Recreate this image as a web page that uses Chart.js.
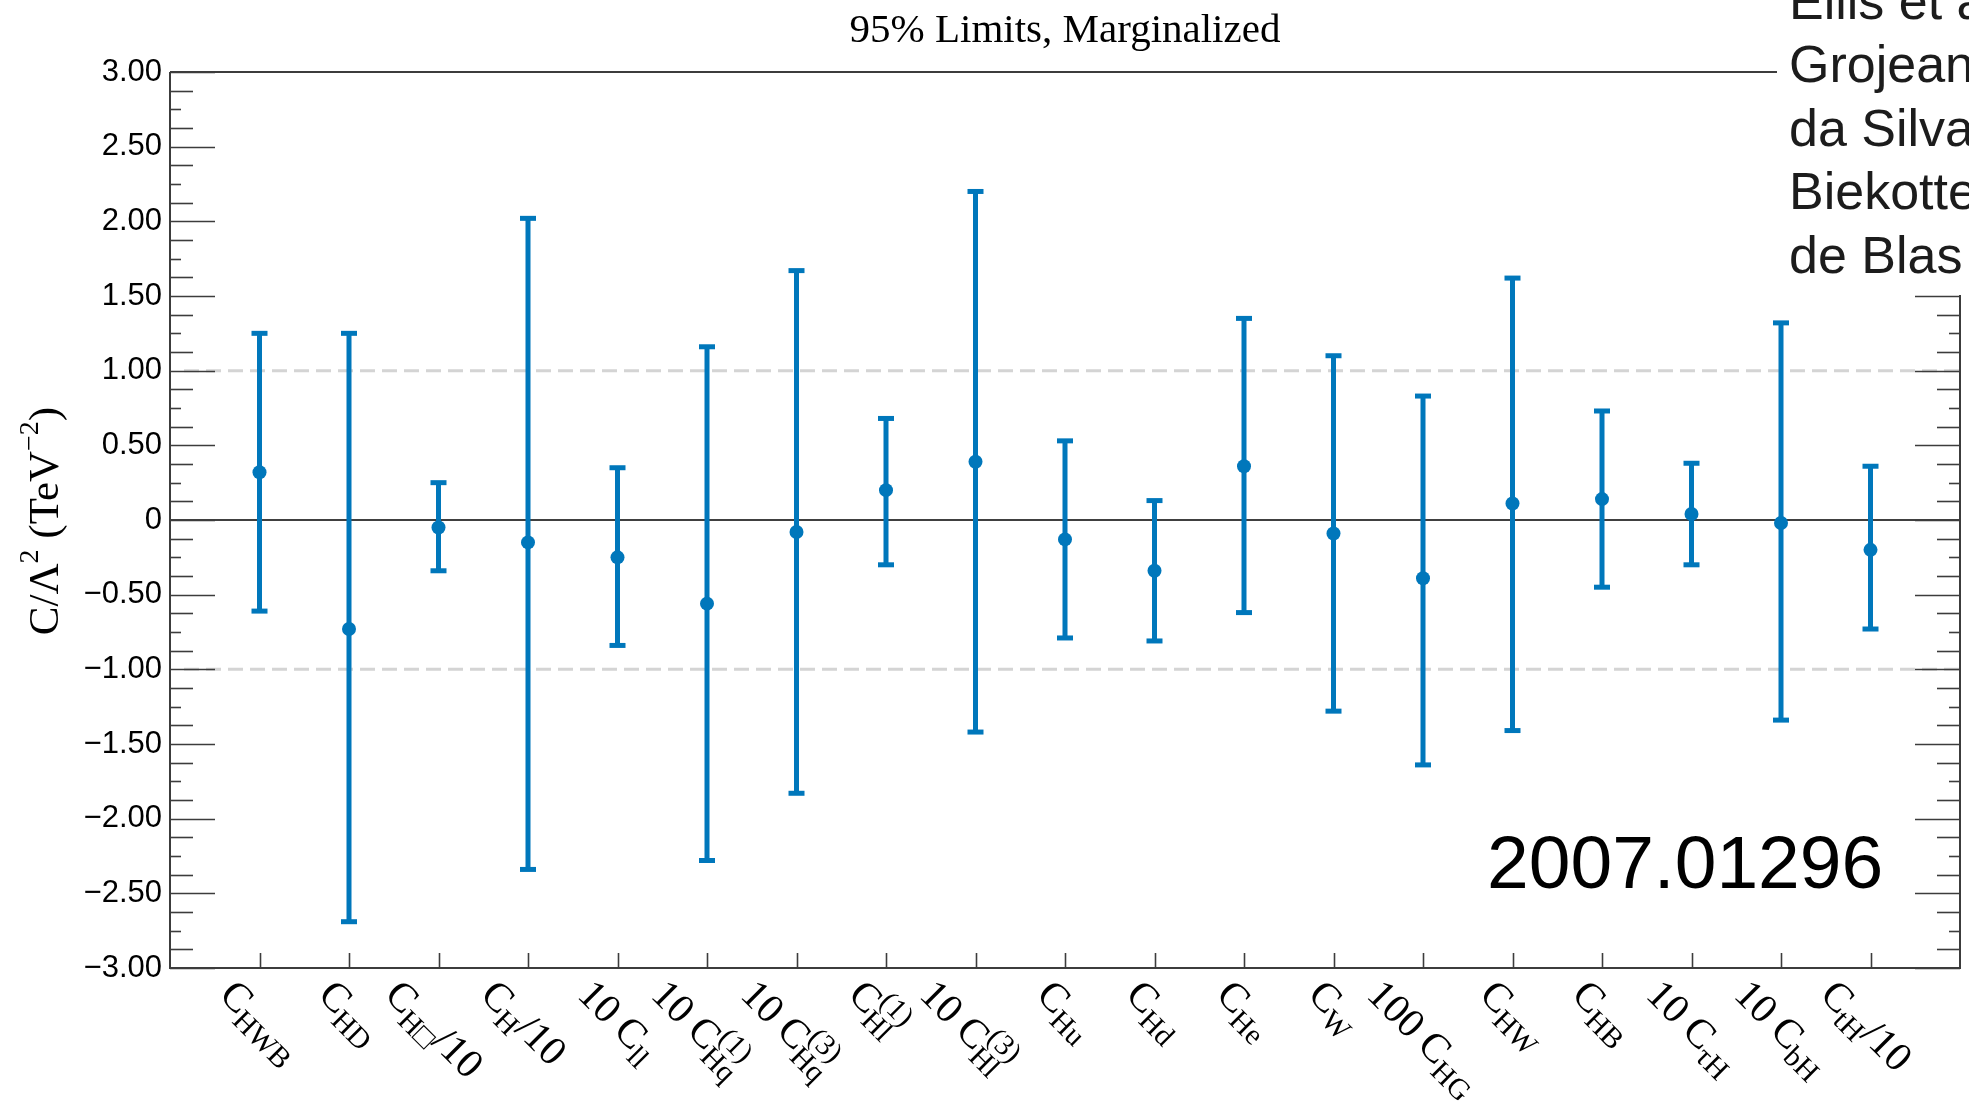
<!DOCTYPE html>
<html>
<head>
<meta charset="utf-8">
<script src="https://cdn.jsdelivr.net/npm/chart.js@4.4.1/dist/chart.umd.min.js"></script>
<style>
html,body{margin:0;padding:0;background:#fff;overflow:hidden;}
#wrap{width:1969px;height:1107px;position:relative;}
canvas{display:block;}
</style>
</head>
<body>
<div id="wrap"><canvas id="c" width="1969" height="1107"></canvas></div>
<script>
// ---------------- data ----------------
const categories = [
  'C_{HWB}', 'C_{HD}', 'C_{H\u25A1}/10', 'C_{H}/10', '10 C_{ll}',
  '10 C_{Hq}^{(1)}', '10 C_{Hq}^{(3)}', 'C_{Hl}^{(1)}', '10 C_{Hl}^{(3)}',
  'C_{Hu}', 'C_{Hd}', 'C_{He}', 'C_{W}', '100 C_{HG}', 'C_{HW}', 'C_{HB}',
  '10 C_{\u03C4H}', '10 C_{bH}', 'C_{tH}/10'
];
const centralValues = [0.32, -0.73, -0.05, -0.15, -0.25, -0.56, -0.08, 0.20, 0.39, -0.13, -0.34, 0.36, -0.09, -0.39, 0.11, 0.14, 0.04, -0.02, -0.20];
const lowerLimits   = [-0.61, -2.69, -0.34, -2.34, -0.84, -2.28, -1.83, -0.30, -1.42, -0.79, -0.81, -0.62, -1.28, -1.64, -1.41, -0.45, -0.30, -1.34, -0.73];
const upperLimits   = [1.25, 1.25, 0.25, 2.02, 0.35, 1.16, 1.67, 0.68, 2.20, 0.53, 0.13, 1.35, 1.10, 0.83, 1.62, 0.73, 0.38, 1.32, 0.36];
const yMin = -3, yMax = 3, yMajorStep = 0.5, yMinorStep = 0.125;
const referenceLines = [1, -1];
const titleText = '95% Limits, Marginalized';
const yTitleParts = [['C/\u039B', 'n'], ['2', 'sup'], [' (TeV', 'n'], ['\u22122', 'sup'], [')', 'n']];
const legendEntries = ['Ellis et al.', 'Grojean et al.', 'da Silva Almeida et al.', 'Biekotter et al.', 'de Blas et al.'];
const stampText = '2007.01296';

// ---------------- style ----------------
const BLUE = '#0077BB';
const FRAME = '#3c3c3c';
const SERIF = "'Liberation Serif', 'Times New Roman', serif";
const SANS = "'Liberation Sans', Arial, Helvetica, sans-serif";

function parseLatex(str) {
  const groups = [];
  let buf = '';
  let i = 0;
  while (i < str.length) {
    const ch = str[i];
    if ((ch === '_' || ch === '^') && str[i + 1] === '{') {
      if (buf) { groups.push({ t: 'n', s: buf }); buf = ''; }
      const end = str.indexOf('}', i + 2);
      groups.push({ t: ch === '_' ? 'sub' : 'sup', s: str.slice(i + 2, end) });
      i = end + 1;
    } else { buf += ch; i++; }
  }
  if (buf) groups.push({ t: 'n', s: buf });
  return groups;
}

function layoutLatex(ctx, str, F) {
  const fs = F * 0.72;
  const groups = parseLatex(str);
  const items = [];
  let cx = 0;
  const put = (s, x, y, f) => {
    ctx.font = f + 'px ' + SERIF;
    const m = ctx.measureText(s);
    items.push({ s, x, y, f, w: m.width, a: m.actualBoundingBoxAscent, d: m.actualBoundingBoxDescent });
    return m.width;
  };
  for (let g = 0; g < groups.length; g++) {
    const gr = groups[g];
    if (gr.t === 'n') {
      cx += put(gr.s, cx, 0, F);
    } else if (gr.t === 'sub') {
      let end = cx + put(gr.s, cx, 0.22 * F, fs);
      if (groups[g + 1] && groups[g + 1].t === 'sup') {
        end = Math.max(end, cx + put(groups[g + 1].s, cx, -0.42 * F, fs));
        g++;
      }
      cx = end;
    } else {
      cx += put(gr.s, cx, -0.42 * F, fs);
    }
  }
  return items;
}

function drawRotatedLatex(ctx, str, F, anchorX, topY, theta) {
  const items = layoutLatex(ctx, str, F);
  const c = Math.cos(theta), s = Math.sin(theta);
  let minX = Infinity, maxX = -Infinity, minY = Infinity;
  items.forEach(it => {
    const pts = [[it.x, it.y - it.a], [it.x + it.w, it.y - it.a], [it.x, it.y + it.d], [it.x + it.w, it.y + it.d]];
    pts.forEach(([px, py]) => {
      const rx = px * c - py * s, ry = px * s + py * c;
      minX = Math.min(minX, rx); maxX = Math.max(maxX, rx); minY = Math.min(minY, ry);
    });
  });
  ctx.save();
  ctx.translate(anchorX - (minX + maxX) / 2, topY - minY);
  ctx.rotate(theta);
  ctx.fillStyle = '#000';
  ctx.textAlign = 'left';
  ctx.textBaseline = 'alphabetic';
  items.forEach(it => { ctx.font = it.f + 'px ' + SERIF; ctx.fillText(it.s, it.x, it.y); });
  ctx.restore();
}

const rootStyle = {
  id: 'rootStyle',
  beforeDraw(chart) {
    const ctx = chart.ctx;
    ctx.save();
    ctx.fillStyle = '#fff';
    ctx.fillRect(0, 0, chart.width, chart.height);
    ctx.restore();
  },
  beforeDatasetsDraw(chart) {
    const { ctx, chartArea: a, scales: { y } } = chart;
    ctx.save();
    // reference dashed lines
    ctx.strokeStyle = '#d4d4d4';
    ctx.lineWidth = 3;
    ctx.setLineDash([15, 7]);
    referenceLines.forEach(v => {
      const py = y.getPixelForValue(v);
      ctx.beginPath(); ctx.moveTo(a.left + 14, py); ctx.lineTo(a.right, py); ctx.stroke();
    });
    ctx.setLineDash([]);
    // zero line
    ctx.strokeStyle = '#000';
    ctx.lineWidth = 1.5;
    const pz = y.getPixelForValue(0);
    ctx.beginPath(); ctx.moveTo(a.left, pz); ctx.lineTo(a.right, pz); ctx.stroke();
    // error bars
    const meta = chart.getDatasetMeta(0);
    ctx.strokeStyle = BLUE;
    ctx.lineWidth = 5;
    ctx.lineCap = 'butt';
    meta.data.forEach((pt, i) => {
      const px = pt.x;
      const yl = y.getPixelForValue(lowerLimits[i]);
      const yh = y.getPixelForValue(upperLimits[i]);
      ctx.beginPath(); ctx.moveTo(px, yl); ctx.lineTo(px, yh); ctx.stroke();
      ctx.beginPath(); ctx.moveTo(px - 8, yl); ctx.lineTo(px + 8, yl); ctx.stroke();
      ctx.beginPath(); ctx.moveTo(px - 8, yh); ctx.lineTo(px + 8, yh); ctx.stroke();
    });
    ctx.restore();
  },
  afterDatasetsDraw(chart) {
    const { ctx, chartArea: a, scales: { x, y } } = chart;
    ctx.save();
    // frame
    ctx.strokeStyle = FRAME;
    ctx.lineWidth = 2;
    ctx.beginPath();
    ctx.moveTo(a.left, a.top); ctx.lineTo(a.left, a.bottom); ctx.lineTo(a.right, a.bottom); ctx.lineTo(a.right, a.top); ctx.lineTo(a.left, a.top);
    ctx.stroke();
    // y ticks (left and right)
    const nSteps = Math.round((yMax - yMin) / yMinorStep);
    for (let k = 0; k <= nSteps; k++) {
      const v = yMin + k * yMinorStep;
      const py = Math.round(y.getPixelForValue(v)) + 0.5;
      const r = k % Math.round(yMajorStep / yMinorStep);
      const len = r === 0 ? 45 : (r % 2 === 0 ? 11 : 23);
      ctx.lineWidth = 1.6;
      ctx.beginPath(); ctx.moveTo(a.left, py); ctx.lineTo(a.left + len, py); ctx.stroke();
      ctx.beginPath(); ctx.moveTo(a.right - len, py); ctx.lineTo(a.right, py); ctx.stroke();
    }
    // x ticks
    categories.forEach((c, i) => {
      const px = Math.round(x.getPixelForValue(i)) + 0.5;
      ctx.beginPath(); ctx.moveTo(px, a.bottom); ctx.lineTo(px, a.bottom - 15); ctx.stroke();
    });
    // legend box (covers top-right)
    ctx.fillStyle = '#fff';
    ctx.fillRect(1777, 0, chart.width - 1777, 295);
    ctx.fillStyle = '#1c1c1c';
    ctx.font = '52px ' + SANS;
    ctx.textAlign = 'left';
    ctx.textBaseline = 'alphabetic';
    legendEntries.forEach((t, i) => ctx.fillText(t, 1789, 19 + i * 63.4));
    // stamp
    ctx.fillStyle = '#000';
    ctx.font = '75px ' + SANS;
    ctx.fillText(stampText, 1487, 888);
    // title
    ctx.font = '41px ' + SERIF;
    ctx.textAlign = 'center';
    ctx.fillText(titleText, 1065, 42);
    // y-axis title
    ctx.save();
    ctx.translate(58, 521);
    ctx.rotate(-Math.PI / 2);
    const Fm = 43, Fs = 28;
    let total = 0;
    const widths = yTitleParts.map(([t, k]) => {
      ctx.font = (k === 'n' ? Fm : Fs) + 'px ' + SERIF;
      const w = ctx.measureText(t).width; total += w; return w;
    });
    let cx = -total / 2;
    ctx.textAlign = 'left';
    yTitleParts.forEach(([t, k], i) => {
      ctx.font = (k === 'n' ? Fm : Fs) + 'px ' + SERIF;
      ctx.fillText(t, cx, k === 'n' ? 0 : -20);
      cx += widths[i];
    });
    ctx.restore();
    // x labels
    categories.forEach((c, i) => {
      drawRotatedLatex(ctx, c, 41, x.getPixelForValue(i) - 4, 978, Math.PI / 4);
    });
    ctx.restore();
  }
};

const points = centralValues.map((v, i) => ({ x: i, y: v }));

new Chart(document.getElementById('c'), {
  type: 'scatter',
  data: {
    datasets: [{
      data: points,
      backgroundColor: BLUE,
      borderWidth: 0,
      pointRadius: 7,
      pointHoverRadius: 7
    }]
  },
  options: {
    responsive: false,
    animation: false,
    devicePixelRatio: 1,
    layout: { padding: { left: 0, top: 72, right: 9, bottom: 139 } },
    plugins: { legend: { display: false }, tooltip: { enabled: false }, title: { display: false } },
    scales: {
      x: {
        type: 'linear', min: -1, max: categories.length, display: false
      },
      y: {
        type: 'linear', min: yMin, max: yMax,
        afterFit(scale) { scale.width = 170; },
        grid: { display: false, drawTicks: false },
        border: { display: false },
        ticks: {
          stepSize: yMajorStep,
          padding: 8,
          color: '#000',
          font: { family: SANS, size: 31 },
          callback: (v) => v === 0 ? '0' : (v < 0 ? '\u2212' : '') + Math.abs(v).toFixed(2)
        }
      }
    }
  },
  plugins: [rootStyle]
});
</script>
</body>
</html>
